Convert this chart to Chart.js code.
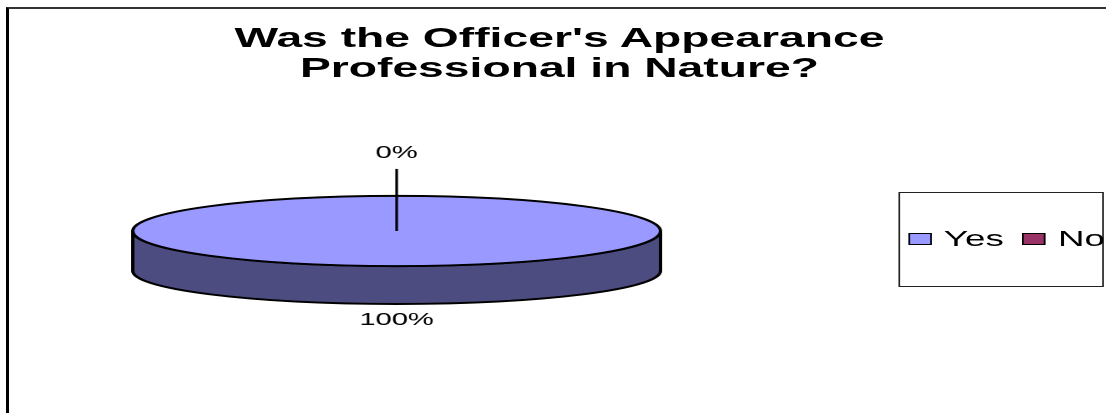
<!DOCTYPE html>
<html>
<head>
<meta charset="utf-8">
<script src="https://cdn.jsdelivr.net/npm/chart.js@4.4.0/dist/chart.umd.min.js"></script>
<style>
  html, body { margin: 0; padding: 0; background: #fff; overflow: hidden; }
  body { width: 1106px; height: 413px; position: relative; font-family: "Liberation Sans", Arial, sans-serif; color: #000; }
  #frame { position: absolute; left: 6px; top: 7px; width: 1200px; height: 500px; border-left: 3px solid #000; border-top: 2px solid #333; }
  /* the original picture is stretched sideways, so the whole stage is too */
  #stage { position: absolute; left: 0; top: 0; width: 670px; height: 413px; transform: scaleX(1.67); transform-origin: 0 0; }
  #title { position: absolute; left: 0; top: 23px; width: 670px; text-align: center; font-weight: bold; font-size: 27.7px; line-height: 30px; white-space: nowrap; }
  #chart { position: absolute; left: 0; top: 0; }
  #legend { position: absolute; left: 537.7px; top: 192px; width: 123.4px; height: 95px; box-sizing: border-box; border: 1px solid #222; }
  #legend .row { position: absolute; left: 5px; top: 35px; height: 21px; display: flex; align-items: center; white-space: nowrap; }
  #legend .key { box-sizing: border-box; width: 14px; height: 12px; border: 1.5px solid #000; margin-right: 7.5px; }
  #legend .txt { font-size: 22px; line-height: 21px; margin-right: 11px; }
</style>
</head>
<body>
<div id="frame"></div>
<div id="stage">
  <div id="title"></div>
  <canvas id="chart" width="670" height="413"></canvas>
  <div id="legend"><div class="row"></div></div>
</div>
<script>
const titleLines = ["Was the Officer's Appearance", 'Professional in Nature?'];
const categories = ['Yes', 'No'];
const values = [100, 0];
const sliceColors = ['#9999FF', '#993366'];
const sideColors = ['#4C4C80', '#4D1A33'];

const TILT = 0.222;   // height/width of the top face
const DEPTH = 40;     // thickness of the pie
const BOTTOM_SQUASH = 0.94;

document.getElementById('title').innerHTML = titleLines.join('<br>');

// legend
const row = document.querySelector('#legend .row');
categories.forEach((name, i) => {
    const key = document.createElement('span');
    key.className = 'key';
    key.style.background = sliceColors[i];
    const txt = document.createElement('span');
    txt.className = 'txt';
    txt.textContent = name;
    row.appendChild(key);
    row.appendChild(txt);
});

function frontRanges(start, end) {
    // parts of [start, end] that fall on the visible front wall [0, PI]
    const out = [];
    for (let k = -2; k <= 2; k++) {
        const s = Math.max(start + k * 2 * Math.PI, 0);
        const e = Math.min(end + k * 2 * Math.PI, Math.PI);
        if (e > s) out.push([s, e]);
    }
    return out;
}

const pie3d = {
    id: 'pie3d',
    beforeDatasetsDraw(chart) {
        const ctx = chart.ctx;
        const arcs = chart.getDatasetMeta(0).data;
        const cx = arcs[0].x, cy = arcs[0].y;
        const rx = arcs[0].outerRadius, ry = rx * TILT, ry2 = ry * BOTTOM_SQUASH;
        ctx.save();
        ctx.lineWidth = 2;
        ctx.strokeStyle = '#000';
        ctx.lineJoin = 'round';
        arcs.forEach((arc, i) => {
            frontRanges(arc.startAngle, arc.endAngle).forEach(([a, b]) => {
                ctx.beginPath();
                ctx.moveTo(cx + rx * Math.cos(a), cy + ry * Math.sin(a));
                ctx.ellipse(cx, cy, rx, ry, 0, a, b);
                ctx.lineTo(cx + rx * Math.cos(b), cy + DEPTH + ry2 * Math.sin(b));
                ctx.ellipse(cx, cy + DEPTH, rx, ry2, 0, b, a, true);
                ctx.closePath();
                ctx.fillStyle = sideColors[i];
                ctx.fill();
                ctx.stroke();
            });
        });
        ctx.restore();
        // squash the top face
        ctx.save();
        ctx.translate(0, cy);
        ctx.scale(1, TILT);
        ctx.translate(0, -cy);
    },
    afterDatasetsDraw(chart) {
        const ctx = chart.ctx;
        ctx.restore();
        const arcs = chart.getDatasetMeta(0).data;
        const cx = arcs[0].x, cy = arcs[0].y;
        const rx = arcs[0].outerRadius, ry = rx * TILT, ry2 = ry * BOTTOM_SQUASH;
        const total = values.reduce((a, b) => a + b, 0);

        ctx.save();
        ctx.strokeStyle = '#000';
        ctx.lineWidth = 2;
        ctx.beginPath();
        ctx.ellipse(cx, cy, rx, ry, 0, 0, 2 * Math.PI);
        ctx.stroke();
        arcs.forEach(arc => {
            const span = arc.endAngle - arc.startAngle;
            if (span > 0 && span < 2 * Math.PI - 1e-6) {
                ctx.beginPath();
                ctx.moveTo(cx, cy);
                ctx.lineTo(cx + rx * Math.cos(arc.startAngle), cy + ry * Math.sin(arc.startAngle));
                ctx.stroke();
            }
        });

        // percentage labels
        ctx.font = '17.4px "Liberation Sans", Arial, sans-serif';
        ctx.fillStyle = '#000';
        ctx.textAlign = 'center';
        ctx.textBaseline = 'alphabetic';
        arcs.forEach((arc, i) => {
            const mid = (arc.startAngle + arc.endAngle) / 2;
            const c = Math.cos(mid), s = Math.sin(mid);
            const x = cx + c * rx * 1.05;
            let y;
            if (s > 0) {
                y = cy + s * (ry2 + DEPTH) + 21;
            } else {
                y = cy + s * ry - 38;
            }
            if (values[i] === 0) {
                ctx.lineWidth = 1.6;
                ctx.beginPath();
                ctx.moveTo(cx, cy);
                ctx.lineTo(x, y + 11);
                ctx.stroke();
            }
            ctx.fillText(Math.round(values[i] / total * 100) + '%', x, y);
        });
        ctx.restore();
    }
};

new Chart(document.getElementById('chart'), {
    type: 'pie',
    data: {
        labels: categories,
        datasets: [{
            data: values,
            backgroundColor: sliceColors,
            borderWidth: 0,
            radius: 158,
            clip: false
        }]
    },
    options: {
        responsive: false,
        animation: false,
        devicePixelRatio: 2,
        events: [],
        layout: { padding: { left: 0, right: 195, top: 49, bottom: 0 } },
        plugins: {
            legend: { display: false },
            title: { display: false },
            tooltip: { enabled: false }
        }
    },
    plugins: [pie3d]
});
</script>
</body>
</html>
